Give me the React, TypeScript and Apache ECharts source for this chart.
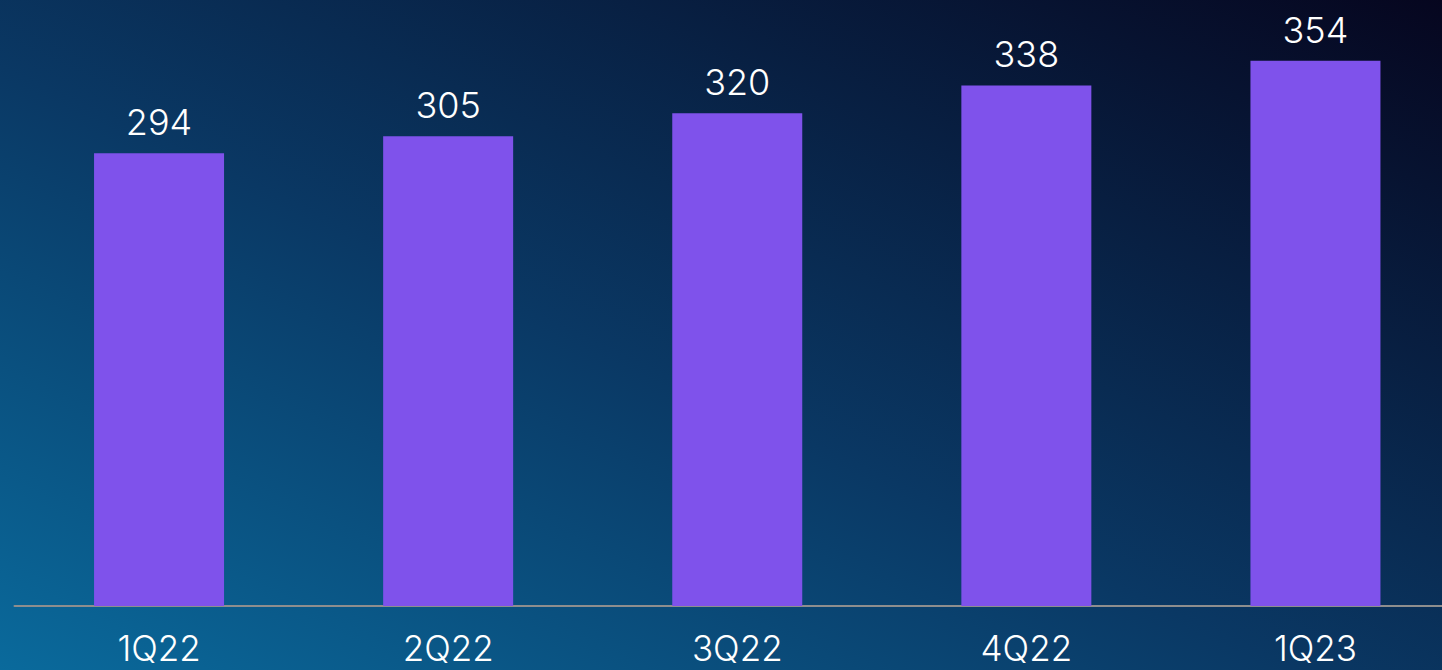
import React, { useEffect, useRef } from "react";
import * as echarts from "echarts";

const categories = ["1Q22", "2Q22", "3Q22", "4Q22", "1Q23"];
const values = [294, 305, 320, 338, 354];

export default function App() {
  const ref = useRef<HTMLDivElement>(null);
  useEffect(() => {
    if (!ref.current) return;
    const chart = echarts.init(ref.current, null, { renderer: "svg" });
    chart.setOption({
      animation: false,
      backgroundColor: "transparent",
      grid: { left: 14.5, right: 0, top: 20.8, bottom: 64, containLabel: false },
      xAxis: {
        type: "category",
        data: categories,
        axisLine: { show: true, lineStyle: { color: "#8e8e8e", width: 2 } },
        axisTick: { show: false },
        axisLabel: {
          color: "#ffffff",
          fontSize: 35,
          fontFamily: "Inter",
          fontWeight: 300,
          lineHeight: 28,
          margin: 28,
        },
      },
      yAxis: { type: "value", min: 0, max: 380, show: false, splitLine: { show: false } },
      series: [
        {
          type: "bar",
          data: values,
          barWidth: 130,
          itemStyle: { color: "#7f52eb" },
          label: {
            show: true,
            position: "top",
            distance: 13,
            color: "#ffffff",
            fontSize: 36,
            fontFamily: "Inter",
            fontWeight: 300,
          },
        },
      ],
    });
    return () => chart.dispose();
  }, []);
  return (
    <div
      style={{
        position: "fixed",
        left: 0,
        top: 0,
        width: 1442,
        height: 670,
        overflow: "hidden",
        background: "linear-gradient(to top right, #0a6a9c 0%, #0a3864 45%, #06061f 100%)",
      }}
    >
      <div ref={ref} style={{ width: 1460, height: 670 }} />
    </div>
  );
}
